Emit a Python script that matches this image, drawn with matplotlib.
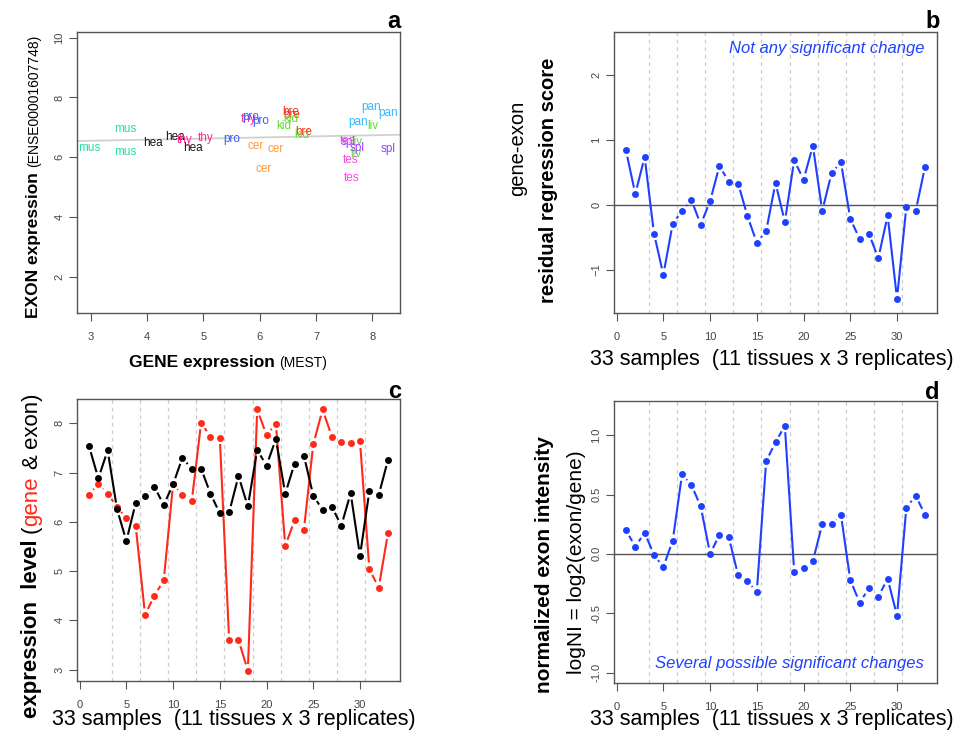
import numpy as np
import matplotlib
matplotlib.use('Agg')
import matplotlib.pyplot as plt

plt.rcParams['font.family'] = ['Liberation Sans', 'DejaVu Sans']

# ---------------- data ----------------
# panel a: gene vs exon expression, labelled by tissue
tissue_labels = ['mus', 'mus', 'mus', 'hea', 'hea', 'hea', 'thy', 'thy', 'thy',
                 'pro', 'pro', 'pro', 'cer', 'cer', 'cer', 'bre', 'bre', 'bre',
                 'kid', 'kid', 'kid', 'pan', 'pan', 'pan', 'liv', 'liv', 'liv',
                 'spl', 'spl', 'spl', 'tes', 'tes', 'tes']
gene_expr = [2.98, 3.61, 3.61, 4.11, 4.50, 4.81, 4.67, 5.04, 5.80,
             5.51, 5.84, 6.02, 5.92, 6.29, 6.07, 6.56, 6.57, 6.78,
             6.42, 6.56, 6.75, 7.98, 8.28, 7.75, 8.01, 7.73, 7.71,
             7.57, 7.73, 8.28, 7.62, 7.64, 7.56]
exon_expr = [6.31, 6.94, 6.18, 6.49, 6.68, 6.30, 6.57, 6.64, 7.27,
             6.60, 7.36, 7.21, 6.37, 6.26, 5.62, 7.53, 7.43, 6.85,
             7.04, 7.27, 6.74, 7.68, 7.49, 7.17, 7.04, 6.51, 6.12,
             6.52, 6.32, 6.26, 5.90, 5.29, 6.55]
tissue_colors = {'mus': '#22e0a8', 'hea': '#1a1a1a', 'thy': '#ff2d8f',
                 'pro': '#3b5bff', 'cer': '#ff9a3a', 'bre': '#ff2a1a',
                 'kid': '#5edc2a', 'pan': '#33b8ff', 'liv': '#62dc34',
                 'spl': '#9a3cff', 'tes': '#ff44ee'}
fit_intercept = 6.44
fit_slope = 0.037

# panels b-d: 33 samples
samples = np.arange(1, 34)
tissue_breaks = [3.5, 6.5, 9.5, 12.5, 15.5, 18.5, 21.5, 24.5, 27.5, 30.5]
residual_score = [0.84, 0.17, 0.74, -0.44, -1.07, -0.29, -0.09, 0.08, -0.30, 0.06,
                  0.60, 0.36, 0.33, -0.17, -0.58, -0.40, 0.34, -0.26, 0.69, 0.39,
                  0.91, -0.09, 0.49, 0.66, -0.21, -0.52, -0.44, -0.82, -0.16, -1.44,
                  -0.03, -0.09, 0.59]
exon_level = [7.54, 6.88, 7.45, 6.26, 5.61, 6.38, 6.52, 6.71, 6.34, 6.76,
              7.30, 7.07, 7.08, 6.57, 6.17, 6.19, 6.93, 6.31, 7.46, 7.14,
              7.68, 6.57, 7.18, 7.34, 6.53, 6.24, 6.30, 5.92, 6.58, 5.31,
              6.62, 6.54, 7.26]
gene_level = [6.55, 6.77, 6.57, 6.30, 6.07, 5.92, 4.11, 4.50, 4.81, 6.76,
              6.55, 6.42, 8.01, 7.73, 7.71, 3.60, 3.60, 2.98, 8.28, 7.76,
              7.99, 5.51, 6.03, 5.84, 7.57, 8.28, 7.72, 7.61, 7.59, 7.63,
              5.04, 4.66, 5.78]
log_ni = [0.20, 0.06, 0.18, -0.01, -0.11, 0.11, 0.67, 0.58, 0.40, 0.00,
          0.16, 0.14, -0.18, -0.23, -0.32, 0.78, 0.94, 1.08, -0.15, -0.12,
          -0.06, 0.25, 0.25, 0.33, -0.22, -0.41, -0.29, -0.36, -0.21, -0.52,
          0.39, 0.49, 0.33]

# ---------------- layout helpers ----------------
W, H = 960, 746
fig = plt.figure(figsize=(W / 100, H / 100), dpi=100)
renderer = fig.canvas.get_renderer()

BLUE = '#2040ff'
RED = '#ff2a1a'
AX_COL = '#555555'
TICK_COL = '#444444'


def make_axes(l, t, r, b):
    ax = fig.add_axes([l / W, 1 - b / H, (r - l) / W, (b - t) / H])
    for s in ax.spines.values():
        s.set_color(AX_COL)
        s.set_linewidth(1.0)
    ax.tick_params(direction='out', length=6, width=0.8, color=AX_COL,
                   labelsize=8, labelcolor=TICK_COL)
    ax.tick_params(axis='x', pad=8)
    ax.tick_params(axis='y', pad=3)
    return ax


def rotate_yticks(ax):
    for lab in ax.get_yticklabels():
        lab.set_rotation(90)
        lab.set_va('center')


def gapped_line(ax, x, y, color, gap=6.5, lw=1.5):
    pts = ax.transData.transform(np.column_stack([x, y]))
    inv = ax.transData.inverted()
    for p0, p1 in zip(pts[:-1], pts[1:]):
        d = p1 - p0
        L = np.hypot(d[0], d[1])
        if L <= 2 * gap:
            continue
        u = d / L
        seg = inv.transform(np.array([p0 + u * gap, p1 - u * gap]))
        ax.plot(seg[:, 0], seg[:, 1], color=color, lw=lw,
                solid_capstyle='butt', zorder=3)
    ax.plot(x, y, 'o', ms=5, color=color, mec='none', zorder=4)


def mixed_text(pieces, x_px, y_px, vertical=False):
    """pieces: list of (string, kwargs, gap_before_px); centred along the
    text direction; the other coord is the baseline (pixels from top-left)."""
    items = []
    for s, kw, g in pieces:
        t = fig.text(0, 0, s, **kw)
        w = t.get_window_extent(renderer).width
        items.append((t, w, g))
    total = sum(w + g for _, w, g in items)
    if vertical:
        pos = (H - y_px) - total / 2
        for t, w, g in items:
            pos += g
            t.set_rotation(90)
            t.set_rotation_mode('anchor')
            t.set_ha('left')
            t.set_va('baseline')
            t.set_position((x_px / W, pos / H))
            pos += w
    else:
        pos = x_px - total / 2
        for t, w, g in items:
            pos += g
            t.set_ha('left')
            t.set_va('baseline')
            t.set_position((pos / W, 1 - y_px / H))
            pos += w


def panel_letter(s, x_px, y_px):
    fig.text(x_px / W, 1 - y_px / H, s, fontsize=17, fontweight='bold',
             ha='right', va='baseline')


def tissue_grid(ax):
    for b in tissue_breaks:
        ax.axvline(b, color='#cccccc', lw=0.9, ls=(0, (3, 3)), zorder=1)


xlim_s = (-0.28, 34.28)
xlab_s = '33 samples  (11 tissues x 3 replicates)'

# ---------------- panel a ----------------
axa = make_axes(77, 32, 400, 313)
axa.set_xlim(2.76, 8.49)
axa.set_ylim(0.79, 10.19)
axa.set_xticks([3, 4, 5, 6, 7, 8])
axa.set_yticks([2, 4, 6, 8, 10])
rotate_yticks(axa)
axa.axline((0, fit_intercept), slope=fit_slope, color='#d0d0d0', lw=1.3, zorder=1)
for lab, gx, ex in zip(tissue_labels, gene_expr, exon_expr):
    axa.text(gx, ex, lab, color=tissue_colors[lab], fontsize=8.5,
             ha='center', va='center', zorder=3)
mixed_text([('GENE expression', dict(fontsize=12.5, fontweight='bold'), 0),
            ('(MEST)', dict(fontsize=10), 5)], 228, 367)
mixed_text([('EXON expression', dict(fontsize=12.5, fontweight='bold'), 0),
            ('(ENSE00001607748)', dict(fontsize=10), 5)], 38, 176, vertical=True)
panel_letter('a', 401, 28)

# ---------------- panel b ----------------
axb = make_axes(614, 32, 937, 313)
axb.set_xlim(*xlim_s)
axb.set_ylim(-1.66, 2.66)
axb.set_xticks([0, 5, 10, 15, 20, 25, 30])
axb.set_yticks([-1, 0, 1, 2])
rotate_yticks(axb)
tissue_grid(axb)
axb.axhline(0, color='#555555', lw=1.0, zorder=2)
gapped_line(axb, samples, residual_score, BLUE)
axb.text(0.96, 0.94, 'Not any significant change', transform=axb.transAxes,
         color=BLUE, fontsize=12, style='italic', ha='right', va='center')
fig.text(772 / W, 1 - 360 / H, xlab_s, fontsize=15.5, ha='center', va='center')
fig.text(518 / W, 1 - 148 / H, 'gene-exon', fontsize=14.5, rotation=90,
         ha='center', va='center')
fig.text(548 / W, 1 - 180 / H, 'residual regression score', fontsize=14.5,
         fontweight='bold', rotation=90, ha='center', va='center')
panel_letter('b', 940, 28)

# ---------------- panel c ----------------
axc = make_axes(77, 399, 400, 681)
lo = min(min(exon_level), min(gene_level))
hi = max(max(exon_level), max(gene_level))
pad = 0.04 * (hi - lo)
axc.set_xlim(*xlim_s)
axc.set_ylim(lo - pad, hi + pad)
axc.set_xticks([0, 5, 10, 15, 20, 25, 30])
axc.set_yticks([3, 4, 5, 6, 7, 8])
rotate_yticks(axc)
tissue_grid(axc)
gapped_line(axc, samples, gene_level, RED)
gapped_line(axc, samples, exon_level, 'black')
fig.text(234 / W, 1 - 720 / H, xlab_s, fontsize=15.5, ha='center', va='center')
mixed_text([('expression  level', dict(fontsize=16, fontweight='bold'), 0),
            ('(', dict(fontsize=16), 6),
            ('gene', dict(fontsize=16, color=RED), 0),
            ('&', dict(fontsize=16), 7),
            ('exon)', dict(fontsize=16), 7)], 37, 555, vertical=True)
panel_letter('c', 401, 398)

# ---------------- panel d ----------------
axd = make_axes(614, 401, 937, 683)
axd.set_xlim(*xlim_s)
axd.set_ylim(-1.088, 1.288)
axd.set_xticks([0, 5, 10, 15, 20, 25, 30])
axd.set_yticks([-1.0, -0.5, 0.0, 0.5, 1.0])
axd.set_yticklabels(['-1.0', '-0.5', '0.0', '0.5', '1.0'])
rotate_yticks(axd)
tissue_grid(axd)
axd.axhline(0, color='#555555', lw=1.0, zorder=2)
gapped_line(axd, samples, log_ni, BLUE)
axd.text(0.96, 0.07, 'Several possible significant changes', transform=axd.transAxes,
         color=BLUE, fontsize=12, style='italic', ha='right', va='center')
fig.text(772 / W, 1 - 720 / H, xlab_s, fontsize=15.5, ha='center', va='center')
fig.text(545 / W, 1 - 565 / H, 'normalized exon intensity', fontsize=15,
         fontweight='bold', rotation=90, ha='center', va='center')
fig.text(576 / W, 1 - 562 / H, 'logNI = log2(exon/gene)', fontsize=15,
         rotation=90, ha='center', va='center')
panel_letter('d', 940, 399)

fig.savefig('out.png', dpi=100)
